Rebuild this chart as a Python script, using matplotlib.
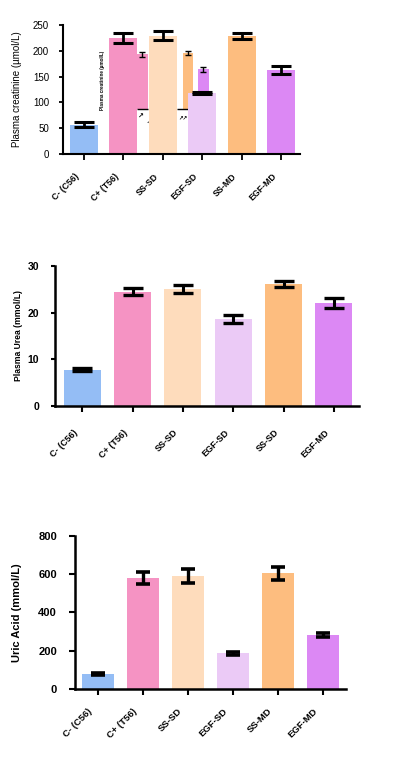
import matplotlib
matplotlib.use("Agg")
import matplotlib.pyplot as plt
import matplotlib.transforms as mtrans
import numpy as np

# ---------------- data ----------------
labels_creat = ["C- (C56)", "C+ (T56)", "SS-SD", "EGF-SD", "SS-MD", "EGF-MD"]
labels_urea = ["C- (C56)", "C+ (T56)", "SS-SD", "EGF-SD", "SS-SD", "EGF-MD"]
labels_uric = ["C- (C56)", "C+ (T56)", "SS-SD", "EGF-SD", "SS-MD", "EGF-MD"]

creat_mean = [57, 225, 229, 118, 229, 163]
creat_err = [5, 9, 9, 2, 6, 8]

urea_mean = [7.8, 24.5, 25.1, 18.6, 26.1, 22.1]
urea_err = [0.3, 0.7, 0.8, 0.8, 0.6, 1.0]

uric_mean = [76, 580, 590, 187, 603, 280]
uric_err = [5, 33, 36, 8, 32, 10]

# pasted-in ghost bars visible in the creatinine panel
ghost_pos = [1.485, 2.64, 3.03]
ghost_mean = [193, 196, 164]
ghost_err = [5, 4, 5]
ghost_colors = ["#f593c3", "#fdbd7f", "#dc88f4"]
ghost_base = 87

colors = ["#94bdf5", "#f593c3", "#fedcbc", "#ebcaf6", "#fdbd7f", "#dc88f4"]

creat_ticks = [0, 50, 100, 150, 200, 250]
urea_ticks = [0, 10, 20, 30]
uric_ticks = [0, 200, 400, 600, 800]

W, H = 394, 776
fig = plt.figure(figsize=(W / 100, H / 100), dpi=100)
SANS = "Liberation Sans"


def style_axes(ax, lw):
    for s in ["top", "right"]:
        ax.spines[s].set_visible(False)
    for s in ["left", "bottom"]:
        ax.spines[s].set_linewidth(lw)
        ax.spines[s].set_color("black")


def shift_xlabels(ax, dx_px, dy_px):
    off = mtrans.ScaledTranslation(dx_px / 100, dy_px / 100, fig.dpi_scale_trans)
    for lab in ax.get_xticklabels():
        lab.set_transform(lab.get_transform() + off)


# ---------------- panel 1: creatinine ----------------
ax1 = fig.add_axes([63 / W, 1 - 154 / H, 237 / W, 129 / H])
x = np.arange(len(creat_mean))
# ghost bars (behind)
ax1.bar(ghost_pos, [m - ghost_base for m in ghost_mean], 0.27, bottom=ghost_base,
        color=ghost_colors, zorder=1)
ax1.errorbar(ghost_pos, ghost_mean, yerr=ghost_err, fmt="none", ecolor="black",
             elinewidth=1, capsize=2.2, capthick=1, zorder=1.5)
ax1.hlines([ghost_base, ghost_base], [1.345, 2.36], [1.625, 2.64], colors="black",
           lw=1, zorder=1.5)
ax1.text(1.43, 72, "\u2197", fontsize=5, ha="center", va="center", zorder=1.6,
         fontweight="bold")
ax1.text(1.63, 62, "<", fontsize=3.5, ha="center", va="center", zorder=1.6)
ax1.text(2.5, 68, "\u2197\u2197", fontsize=4, ha="center", va="center", zorder=1.6,
         fontweight="bold")
ax1.text(0.48, 143, "Plasma creatinine (\u00b5mol/L)", fontsize=3.3, rotation=90,
         ha="center", va="center", family=SANS, fontweight="bold", zorder=1.6)

ax1.bar(x, creat_mean, 0.71, color=colors, zorder=2)
ax1.errorbar(x, creat_mean, yerr=creat_err, fmt="none", ecolor="black",
             elinewidth=2, capsize=7, capthick=2.2, zorder=3)
ax1.set_xlim(-0.53, 5.48)
ax1.set_ylim(0, 250)
ax1.set_yticks(creat_ticks)
ax1.set_yticklabels([str(t) for t in creat_ticks], family=SANS, fontsize=7)
ax1.set_xticks(x)
ax1.set_xticklabels(labels_creat, rotation=45, ha="right", va="center",
                    rotation_mode="anchor", family=SANS,
                    fontsize=6.3, fontweight="bold")
ax1.tick_params(axis="x", length=4, width=1.3, pad=11)
ax1.tick_params(axis="y", length=3, width=1.3, pad=7)
ax1.set_ylabel("Plasma creatinine (\u00b5mol/L)", family=SANS, fontsize=7)
ax1.yaxis.set_label_coords(-0.173, 0.5)
style_axes(ax1, 1.5)
shift_xlabels(ax1, -6, 0)

# ---------------- panel 2: urea ----------------
ax2 = fig.add_axes([55 / W, 1 - 406 / H, 304 / W, 140 / H])
x = np.arange(len(urea_mean))
ax2.bar(x, urea_mean, 0.73, color=colors, zorder=2)
ax2.errorbar(x, urea_mean, yerr=urea_err, fmt="none", ecolor="black",
             elinewidth=2.2, capsize=7, capthick=2.4, zorder=3)
ax2.set_xlim(-0.54, 5.5)
ax2.set_ylim(0, 30)
ax2.set_yticks(urea_ticks)
ax2.set_yticklabels([str(t) for t in urea_ticks], family=SANS,
                    fontsize=7.5, fontweight="bold")
ax2.set_xticks(x)
ax2.set_xticklabels(labels_urea, rotation=45, ha="right", va="center",
                    rotation_mode="anchor", family=SANS,
                    fontsize=6.5, fontweight="bold")
ax2.tick_params(axis="x", length=4, width=1.5, pad=14)
ax2.tick_params(axis="y", length=3, width=1.5, pad=8.5)
ax2.set_ylabel("Plasma Urea (mmol/L)", family=SANS,
               fontsize=6.2, fontweight="bold")
ax2.yaxis.set_label_coords(-0.105, 0.5)
style_axes(ax2, 1.8)
shift_xlabels(ax2, -6, 0)

# ---------------- panel 3: uric acid ----------------
ax3 = fig.add_axes([75 / W, 1 - 689 / H, 271 / W, 153.3 / H])
x = np.arange(len(uric_mean))
ax3.bar(x, uric_mean, 0.71, color=colors, zorder=2)
ax3.errorbar(x, uric_mean, yerr=uric_err, fmt="none", ecolor="black",
             elinewidth=2.4, capsize=5, capthick=2.6, zorder=3)
ax3.set_xlim(-0.51, 5.51)
ax3.set_ylim(0, 800)
ax3.set_yticks(uric_ticks)
ax3.set_yticklabels([str(t) for t in uric_ticks], family=SANS,
                    fontsize=8, fontweight="bold")
ax3.set_xticks(x)
ax3.set_xticklabels(labels_uric, rotation=45, ha="right", va="center",
                    rotation_mode="anchor", family=SANS,
                    fontsize=6.8, fontweight="bold")
ax3.tick_params(axis="x", length=4, width=1.5, pad=11)
ax3.tick_params(axis="y", length=4, width=1.5, pad=9)
ax3.set_ylabel("Uric Acid (mmol/L)", family=SANS,
               fontsize=8, fontweight="bold")
ax3.yaxis.set_label_coords(-0.196, 0.5)
style_axes(ax3, 1.8)
shift_xlabels(ax3, -7, 0)

fig.savefig("out.png", dpi=100)
